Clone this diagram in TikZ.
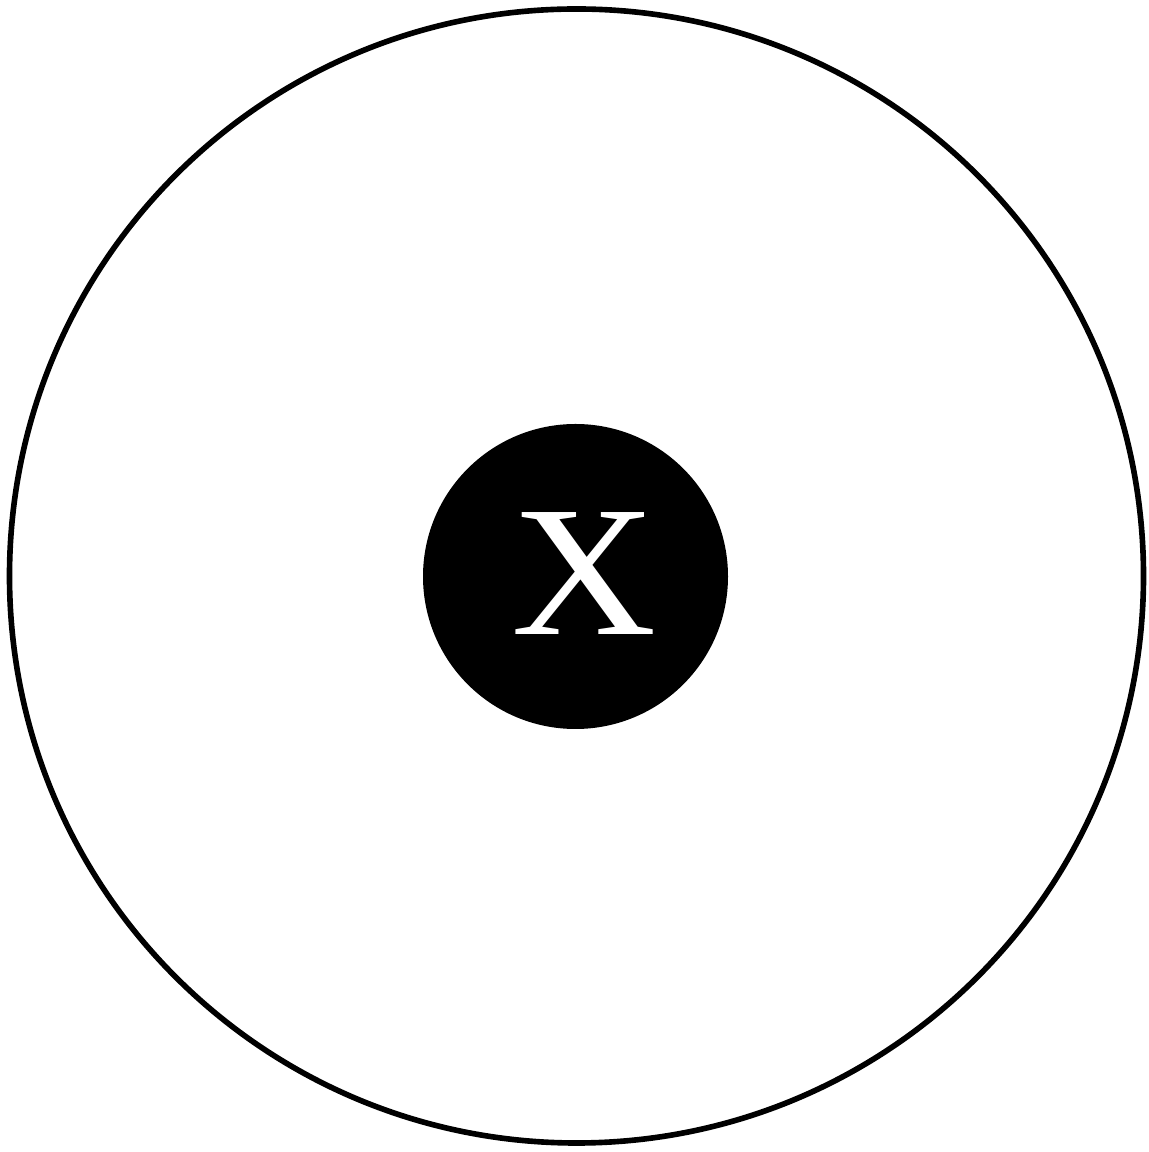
\documentclass[tikz,border=0pt]{standalone}
\usepackage{fontspec}
\setmainfont{Liberation Serif}
\usepackage{tikz}

\begin{document}
\begin{tikzpicture}[every node/.style={inner sep=0pt}, line width=1.6pt]
\useasboundingbox (0,0) rectangle (11.48,11.52);
\node[circle, draw, minimum size=11.34cm] (ring) at (5.765,5.76) {};
\node[circle, fill=black, minimum size=3.05cm] (core) at (5.755,5.755) {};
\node[text=white, font=\fontsize{53}{53}\selectfont, xscale=1.08] (mark) at (5.845,5.78) {X};
\end{tikzpicture}
\end{document}
